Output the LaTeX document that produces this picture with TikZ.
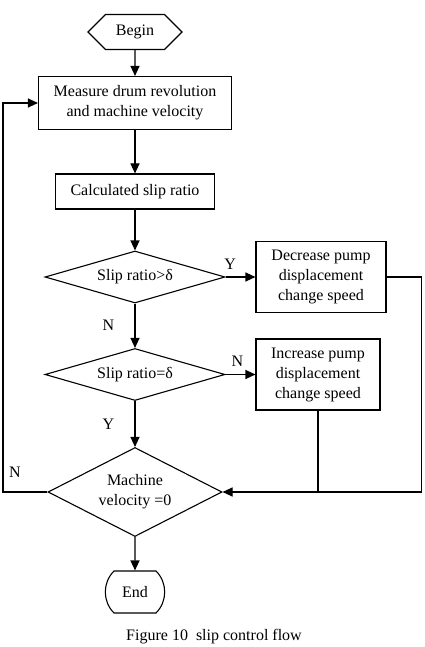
\documentclass[tikz,border=0pt]{standalone}
\usepackage{fontspec}
\setmainfont{Liberation Serif}
\usetikzlibrary{shapes.geometric,shapes.symbols,shapes.misc,arrows.meta}
\tikzset{
  process box/.style = {
    shape = rectangle,
    align = center,
    draw,
    minimum width = #1,
    inner sep = 2pt},
  decision/.style = {
    shape = diamond,
    align = center,
    draw,
    aspect = #1,
    inner sep = 0pt},
  start/.style = {
    shape = signal,
    signal to = west and east,
    draw,
    minimum width = 94pt,
    minimum height = 35pt},
  stop/.style = {
    shape = rounded rectangle,
    rounded rectangle arc length = 90,
    draw,
    inner xsep = 7pt,
    minimum height = 42pt}
}

\begin{document}
\begin{tikzpicture}[line width = 1.1pt, font = \fontsize{16}{20}\selectfont, >={Triangle[length=10pt,width=9pt]}]
  \useasboundingbox (0,0) rectangle (425pt,-647pt);
  \node[start] at (135pt,-32pt) (begin) {Begin};
  \node[process box = 193pt, minimum height = 53pt, node distance = 71pt, below of = begin] (measure) {Measure drum revolution \\ and machine velocity};
  \node[process box = 159pt, minimum height = 35pt, node distance = 88.5pt, below of = measure] (calc) {Calculated slip ratio};
  \node[decision = 3.4, minimum width = 180pt, minimum height = 52pt, node distance = 85.5pt, below of = calc] (ratiogt) {Slip ratio>δ};
  \node[decision = 3.4, minimum width = 180pt, minimum height = 52pt, node distance = 97.5pt, below of = ratiogt] (ratioeq) {Slip ratio=δ};
  \node[decision = 2, minimum width = 174pt, minimum height = 89pt, node distance = 117.5pt, below of = ratioeq] (stopped) {Machine \\ velocity =0};
  \node[stop, node distance = 100pt, below of = stopped] (end) {End};
  \node[process box = 130pt, minimum height = 71pt, node distance = 186pt, right of = ratiogt] (decrease) {Decrease pump \\ displacement \\ change speed};
  \node[process box = 124pt, minimum height = 71pt, node distance = 183pt, right of = ratioeq] (increase) {Increase pump \\ displacement \\ change speed};
  \node at (214pt,-637pt) (caption) {Figure 10\ \ slip control flow};
  \coordinate[node distance = 132pt, left of = stopped] (loopleft);
  \draw[->] (begin) -- (measure);
  \draw[->] (measure) -- (calc);
  \draw[->] (calc) -- (ratiogt);
  \draw[->] (ratiogt) -- (decrease) node[pos = 0.15, above, yshift = 4pt] {Y};
  \draw[->] (ratiogt) -- (ratioeq) node[midway, left, xshift = -17pt] {N};
  \draw[->] (ratioeq) -- (increase) node[pos = 0.4, above, yshift = 4pt] {N};
  \draw[->] (ratioeq) -- (stopped) node[midway, left, xshift = -17pt] {Y};
  \draw[->] (stopped) -- (end);
  \draw[->] (stopped.west) -- node[pos = 0.73, above, yshift = 11pt] {N} (loopleft) |- (measure.west);
  \draw[->] (decrease.east) -- ++(35pt,0) |- (stopped.east);
  \draw (increase.south) -- (increase.south |- stopped.east);
\end{tikzpicture}
\end{document}
